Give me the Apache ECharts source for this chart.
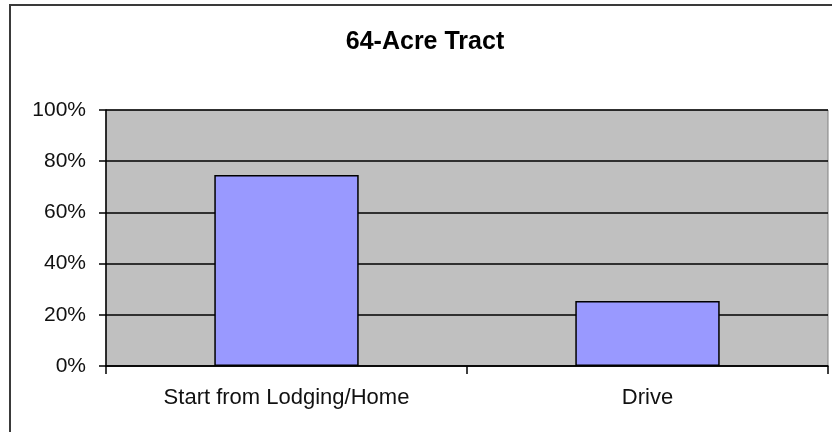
<!DOCTYPE html>
<html>
<head>
<meta charset="utf-8">
<script src="https://cdn.jsdelivr.net/npm/echarts@6/dist/echarts.min.js"></script>
<style>
  html, body { margin: 0; padding: 0; background: #fff; }
  #chart { width: 832px; height: 432px; }
</style>
</head>
<body>
<div id="chart"></div>
<script>
// data
const categories = ['Start from Lodging/Home', 'Drive']
const shares = [74.6, 25.4]
const yTicks = [0, 20, 40, 60, 80, 100]

const chart = echarts.init(document.getElementById('chart'))

const font = 'Arial, "Liberation Sans", sans-serif'

const option = {
  animation: false,
  backgroundColor: '#fff',
  title: {
    text: '64-Acre Tract',
    left: 420,
    top: 25,
    textAlign: 'center',
    textStyle: {
      fontFamily: font,
      fontSize: 25,
      fontWeight: 'bold',
      color: '#000'
    }
  },
  graphic: [{
    type: 'rect',
    shape: { x: 10, y: 5, width: 840, height: 450 },
    style: { fill: 'none', stroke: '#3a3a3a', lineWidth: 2 },
    silent: true
  }],
  grid: {
    left: 106,
    right: 4,
    top: 110,
    bottom: 66,
    show: true,
    backgroundColor: '#c0c0c0',
    borderColor: '#808080',
    borderWidth: 1
  },
  xAxis: {
    type: 'category',
    data: categories,
    axisLine: { lineStyle: { color: '#000', width: 1.5 } },
    axisTick: { show: true, length: 8, lineStyle: { color: '#000', width: 1.5 } },
    axisLabel: {
      margin: 21,
      fontFamily: font,
      fontSize: 22,
      color: '#111'
    }
  },
  yAxis: {
    type: 'value',
    min: yTicks[0],
    max: yTicks[yTicks.length - 1],
    interval: yTicks[1] - yTicks[0],
    axisLine: { show: true, lineStyle: { color: '#000', width: 1.5 } },
    axisTick: { show: true, length: 7, lineStyle: { color: '#000', width: 1.5 } },
    axisLabel: {
      formatter: '{value}%',
      margin: 20,
      fontFamily: font,
      fontSize: 21,
      color: '#111'
    },
    splitLine: { lineStyle: { color: '#000', width: 1.5 } }
  },
  series: [{
    type: 'bar',
    data: shares,
    barWidth: '40%',
    itemStyle: {
      color: '#9999ff',
      borderColor: '#000',
      borderWidth: 1.5
    }
  }]
}

chart.setOption(option)
</script>
</body>
</html>
